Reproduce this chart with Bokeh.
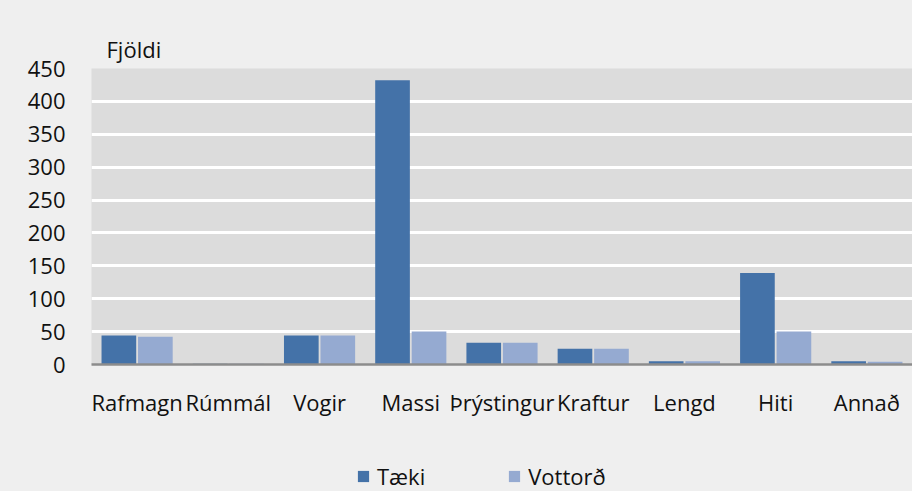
from bokeh.plotting import figure
from bokeh.layouts import column
from bokeh.models import FactorRange, Range1d, Legend, LegendItem, Title, ColumnDataSource, SingleIntervalTicker
from bokeh.transform import dodge
from bokeh.embed import file_html
from bokeh.resources import INLINE

categories = ["Rafmagn", "Rúmmál", "Vogir", "Massi", "Þrýstingur", "Kraftur", "Lengd", "Hiti", "Annað"]
taeki = [44, 1, 44, 432, 33, 24, 5, 139, 5]
vottord = [42, 1, 44, 50, 33, 24, 5, 50, 4]
series_names = ["Tæki", "Vottorð"]
colors = ["#4472a8", "#95aad1"]
y_label = "Fjöldi"

FONT = "Open Sans"
PANEL = "#efefef"
src = ColumnDataSource(dict(cat=categories, taeki=taeki, vottord=vottord))

p = figure(width=912, height=440, x_range=FactorRange(*categories), y_range=Range1d(0, 450),
           output_backend="svg", toolbar_location=None,
           background_fill_color="#dcdcdc", border_fill_color=PANEL,
           min_border_left=91, min_border_right=0, min_border_top=68, min_border_bottom=76)
p.outline_line_color = None

p.vbar(x=dodge("cat", -0.2, range=p.x_range), top="taeki", width=0.38, source=src,
       fill_color=colors[0], line_color=None)
p.vbar(x=dodge("cat", 0.2, range=p.x_range), top="vottord", width=0.38, source=src,
       fill_color=colors[1], line_color=None)

p.yaxis.ticker = SingleIntervalTicker(interval=50)
p.ygrid.ticker = SingleIntervalTicker(interval=50)
p.ygrid.grid_line_color = "white"
p.ygrid.grid_line_width = 3
p.xgrid.grid_line_color = None

for ax in (p.xaxis[0], p.yaxis[0]):
    ax.major_tick_line_color = None
    ax.minor_tick_line_color = None
    ax.major_tick_out = 0
    ax.major_tick_in = 0
    ax.major_label_text_font = FONT
    ax.major_label_text_font_size = "22px"
    ax.major_label_text_color = "#111111"
p.yaxis.axis_line_color = None
p.yaxis.major_label_standoff = 22
p.xaxis.axis_line_color = "#8c8c8c"
p.xaxis.axis_line_width = 2.5
p.xaxis.major_label_standoff = 22

t = Title(text=y_label, align="left", offset=15, text_font=FONT, text_font_size="22px",
          text_font_style="normal", text_color="#111111", standoff=9)
p.add_layout(t, "above")

# legend strip below the chart (its frame is aligned with the chart's frame)
pl = figure(width=912, height=51, x_range=Range1d(0, 1), y_range=Range1d(0, 1),
            output_backend="svg", toolbar_location=None,
            x_axis_type=None, y_axis_type=None,
            background_fill_alpha=0, border_fill_alpha=0,
            min_border_left=91, min_border_right=0, min_border_top=0, min_border_bottom=0)
pl.outline_line_color = None
pl.grid.visible = False
# legend proxies (kept outside the visible range)
lr1 = pl.vbar(x=[-5], top=[0], width=0.1, fill_color=colors[0], line_color=None)
lr2 = pl.vbar(x=[-5], top=[0], width=0.1, fill_color=colors[1], line_color=None)

legend = Legend(items=[LegendItem(label=series_names[0], renderers=[lr1]),
                       LegendItem(label=series_names[1], renderers=[lr2])],
                orientation="horizontal", location=(265, 0),
                glyph_width=14, glyph_height=14, label_standoff=7, spacing=82,
                padding=0, margin=0, border_line_color=None, background_fill_alpha=0,
                label_text_font=FONT, label_text_font_size="22px", label_text_color="#111111")
pl.add_layout(legend, "center")

layout = column(p, pl, spacing=0, styles={"background-color": PANEL})
open("out.html", "w").write(file_html(layout, INLINE))
